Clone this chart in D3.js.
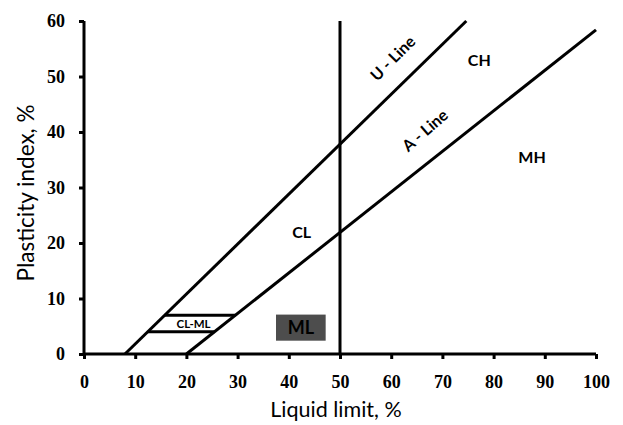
<!DOCTYPE html>
<html>
<head>
<meta charset="utf-8">
<script src="https://cdn.jsdelivr.net/npm/d3@7"></script>
<style>
  body { margin: 0; background: #fff; }
  svg { display: block; }
</style>
</head>
<body>
<div id="chart"></div>
<script>
// plasticity chart data
var xTicks = [0, 10, 20, 30, 40, 50, 60, 70, 80, 90, 100];
var yTicks = [0, 10, 20, 30, 40, 50, 60];
// U-line: PI = 0.9 (LL - 8), A-line: PI = 0.73 (LL - 20)
var uLine = [[8, 0], [74.67, 60]];
var aLine = [[20, 0], [100, 58.4]];
var llLine = [[50, 0], [50, 60]];
// CL-ML band
var clmlTop = [[15.78, 7], [29.59, 7]];
var clmlBottom = [[12.44, 4], [25.48, 4]];
var mlBox = [37.5, 47.2, 7.1, 2.4]; // x0, x1, y0, y1
var zoneLabels = [
  {text: "CL", x: 42.5, y: 21.9, size: 16},
  {text: "CH", x: 77.2, y: 53.0, size: 16},
  {text: "MH", x: 87.5, y: 35.5, size: 16},
  {text: "CL-ML", x: 21.4, y: 5.5, size: 11.5}
];
var lineLabels = [
  {text: "U - Line", x: 60.3, y: 53.3, angle: -45},
  {text: "A - Line", x: 66.6, y: 40.3, angle: -41}
];

var width = 623, height = 425;
var margin = {top: 21, right: 27, bottom: 71, left: 84};

var svg = d3.select("#chart").append("svg")
  .attr("width", width)
  .attr("height", height);

var x = d3.scaleLinear().domain([0, 100]).range([margin.left, width - margin.right]);
var y = d3.scaleLinear().domain([0, 60]).range([height - margin.bottom, margin.top]);

var line = d3.line().x(d => x(d[0])).y(d => y(d[1]));

// boundary lines
[uLine, aLine, llLine, clmlTop, clmlBottom].forEach(function(pts){
  svg.append("path")
    .attr("d", line(pts))
    .attr("fill", "none")
    .attr("stroke", "#000")
    .attr("stroke-width", 3);
});

// ML box
svg.append("rect")
  .attr("x", x(mlBox[0]))
  .attr("y", y(mlBox[2]))
  .attr("width", x(mlBox[1]) - x(mlBox[0]))
  .attr("height", y(mlBox[3]) - y(mlBox[2]))
  .attr("fill", "#4d4d4d");
svg.append("text")
  .attr("x", x((mlBox[0] + mlBox[1]) / 2))
  .attr("y", y((mlBox[2] + mlBox[3]) / 2))
  .attr("dy", "0.36em")
  .attr("text-anchor", "middle")
  .style("font", "bold 18px Lato, 'Open Sans', sans-serif")
  .text("ML");

// zone labels
svg.selectAll("text.zone").data(zoneLabels).enter()
  .append("text")
  .attr("class", "zone")
  .attr("x", d => x(d.x))
  .attr("y", d => y(d.y))
  .attr("dy", "0.36em")
  .attr("text-anchor", "middle")
  .style("font-family", "Lato, 'Open Sans', sans-serif")
  .style("font-weight", "bold")
  .style("font-size", d => d.size + "px")
  .text(d => d.text);

svg.selectAll("text.lineLabel").data(lineLabels).enter()
  .append("text")
  .attr("class", "lineLabel")
  .attr("transform", d => "translate(" + x(d.x) + "," + y(d.y) + ") rotate(" + d.angle + ")")
  .attr("dy", "0.36em")
  .attr("text-anchor", "middle")
  .style("font", "bold 16px Lato, 'Open Sans', sans-serif")
  .text(d => d.text);

// axes
var xAxis = svg.append("g")
  .attr("transform", "translate(0," + y(0) + ")")
  .call(d3.axisBottom(x).tickValues(xTicks).tickSize(5).tickPadding(16));
var yAxis = svg.append("g")
  .attr("transform", "translate(" + x(0) + ",0)")
  .call(d3.axisLeft(y).tickValues(yTicks).tickSize(5).tickPadding(14));

[xAxis, yAxis].forEach(function(g){
  g.select(".domain").attr("stroke", "#000").attr("stroke-width", 3);
  g.selectAll(".tick line").attr("stroke", "#000").attr("stroke-width", 3);
  g.selectAll(".tick text")
    .attr("fill", "#000")
    .style("font", "bold 18px 'Liberation Serif', 'Times New Roman', serif");
});
xAxis.select(".domain").attr("d", "M" + x(0) + ",0H" + x(100));
yAxis.select(".domain").attr("d", "M0," + y(0) + "V" + y(60));

// axis titles
svg.append("text")
  .attr("x", 336)
  .attr("y", 417)
  .attr("text-anchor", "middle")
  .style("font", "21.5px Lato, 'Open Sans', sans-serif")
  .text("Liquid limit, %");

svg.append("text")
  .attr("transform", "translate(34," + 193 + ") rotate(-90)")
  .attr("text-anchor", "middle")
  .style("font", "22.5px Lato, 'Open Sans', sans-serif")
  .text("Plasticity index, %");
</script>
</body>
</html>
